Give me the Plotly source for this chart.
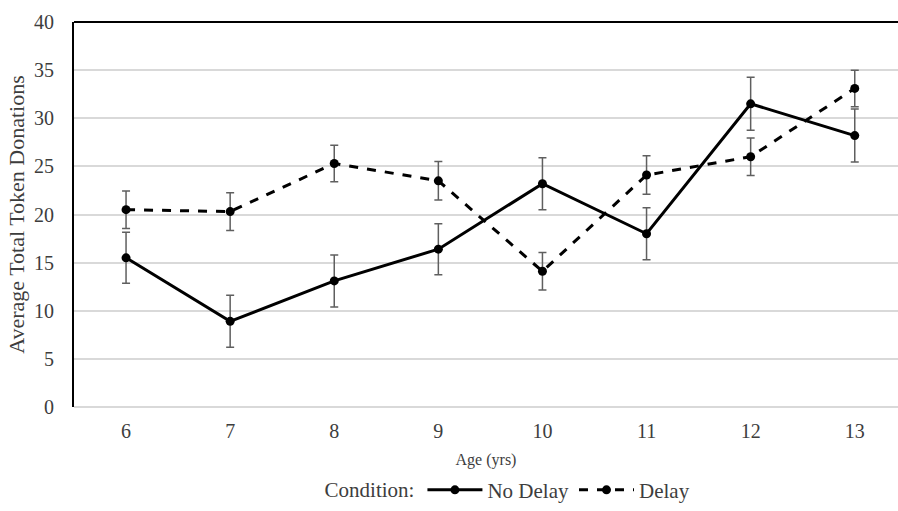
import plotly.graph_objects as go

ages = [6, 7, 8, 9, 10, 11, 12, 13]
no_delay = [15.5, 8.9, 13.1, 16.4, 23.2, 18.0, 31.5, 28.2]
no_delay_err = [2.65, 2.7, 2.7, 2.65, 2.7, 2.7, 2.75, 2.75]
delay = [20.5, 20.3, 25.3, 23.5, 14.1, 24.1, 26.0, 33.1]
delay_err = [1.95, 1.95, 1.9, 2.0, 1.95, 2.0, 1.95, 1.9]
y_ticks = [0, 5, 10, 15, 20, 25, 30, 35, 40]

FONT = "Liberation Serif"
TXT = "#3d3d3d"
ERR = "#5f5f5f"

fig = go.Figure()
fig.add_trace(go.Scatter(
    x=ages, y=no_delay, name="No Delay", mode="lines+markers",
    line=dict(color="black", width=3),
    marker=dict(color="black", size=9),
    error_y=dict(type="data", array=no_delay_err, visible=True,
                 color=ERR, thickness=1.5, width=4),
))
fig.add_trace(go.Scatter(
    x=ages, y=delay, name="Delay", mode="lines+markers",
    line=dict(color="black", width=3, dash="dash"),
    marker=dict(color="black", size=9),
    error_y=dict(type="data", array=delay_err, visible=True,
                 color=ERR, thickness=1.5, width=4),
))

fig.add_shape(type="line", xref="paper", yref="paper", x0=0, x1=1, y0=1, y1=1,
              line=dict(color="black", width=2))

fig.update_layout(
    width=898, height=511,
    margin=dict(l=74, r=0, t=22, b=100),
    plot_bgcolor="white", paper_bgcolor="white",
    font=dict(family=FONT, color=TXT, size=20),
    xaxis=dict(
        range=[5.5, 5.5 + 824 / 104.1],
        tickvals=ages, ticktext=[str(a) for a in ages],
        showgrid=False, zeroline=False, showline=False,
        ticks="", tickfont=dict(family=FONT, size=20, color=TXT),
        ticklabelstandoff=10,
        title=dict(text="Age (yrs)", font=dict(family=FONT, size=16, color=TXT), standoff=12),
    ),
    yaxis=dict(
        range=[0, 40], tickvals=y_ticks,
        showgrid=True, gridcolor="#d9d9d9", gridwidth=1.5,
        zeroline=True, zerolinecolor="#d9d9d9", zerolinewidth=1.5,
        showline=True, linecolor="black", linewidth=2,
        ticks="", tickfont=dict(family=FONT, size=20, color=TXT),
        ticklabelstandoff=14,
        title=dict(text="Average Total Token Donations", font=dict(family=FONT, size=22, color=TXT), standoff=3),
    ),
    legend=dict(
        orientation="h", x=0.528, xanchor="center", y=-0.216, yanchor="middle",
        title=dict(text="Condition:", font=dict(family=FONT, size=21, color=TXT), side="left"),
        font=dict(family=FONT, size=21, color=TXT), itemwidth=55,
    ),
    showlegend=True,
)

fig.write_html("out.html")
